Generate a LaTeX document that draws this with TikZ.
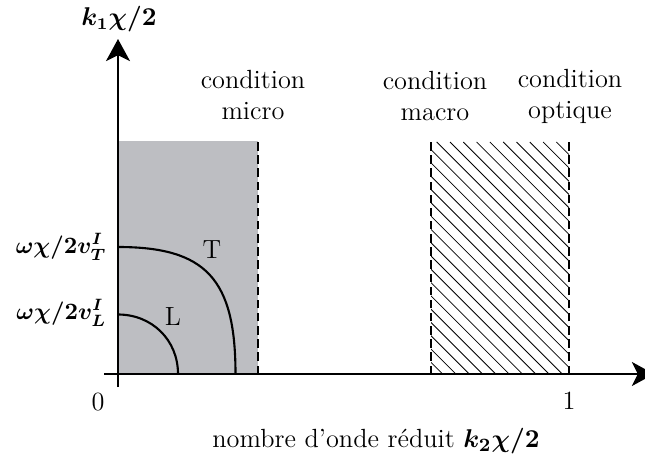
\documentclass[tikz,border=0pt]{standalone}
\usepackage{amsmath}
\usepackage{fontspec}
\usetikzlibrary{arrows.meta,positioning}
\definecolor{zonegris}{RGB}{189,190,194}

\begin{document}
\begin{tikzpicture}[x=0.426pt,y=0.426pt,
   >={Stealth[length=9.4pt,width=10.2pt,inset=2.5pt]},
   font=\fontsize{11.2}{13.2}\selectfont,
   axe/.style={line width=0.9pt},
   lim/.style={line width=0.9pt,dash pattern=on 3.6pt off 2pt},
   branch/.style={line width=0.9pt},
   hatch/.style={line width=0.35pt},
   cond/.style={align=center,inner sep=0pt},
   vlab/.style={inner sep=0pt,anchor=east,font=\fontsize{10.3}{12}\selectfont}]
  \useasboundingbox (-118,-89) rectangle (527,374);
  % zones
  \fill[zonegris] (0,0) rectangle (140,233);
  \begin{scope}
    \clip (313,0) rectangle (451,232);
    \foreach \k in {-19,...,9}
      \draw[hatch] (332+13.3*\k,232) -- ++(232,-232);
  \end{scope}
  % branches T et L
  \coordinate (T0) at (0,127);
  \coordinate (T1) at (117.5,0);
  \coordinate (L0) at (0,59.5);
  \coordinate (L1) at (60,0);
  \draw[branch] (T0) .. controls (88,127) and (117.5,95) .. (T1);
  \draw[branch] (L0) .. controls (34,59.5) and (60,34) .. (L1);
  \node (T) at (94,124) {T};
  \node (L) at (55,57) {L};
  % limites
  \draw[lim] (140,0) -- (140,233);
  \draw[lim] (313,0) -- (313,232);
  \draw[lim] (451,0) -- (451,232);
  % axes
  \coordinate (O) at (0,0);
  \draw[axe,->] (-14,0) -- (536,0);
  \draw[axe,->] (0,-13) -- (0,335);
  \node[font=\fontsize{10.7}{12}\selectfont] (ky) at (1,355) {$\boldsymbol{k_1\chi/2}$};
  \node[vlab] (vT) at (-11,127) {$\boldsymbol{\omega\chi/2v_T^I}$};
  \node[vlab] (vL) at (-11,61) {$\boldsymbol{\omega\chi/2v_L^I}$};
  \node (zero) at (-20,-28) {0};
  \node (un) at (451,-27) {1};
  \node (kx) at (258,-67) {nombre d’onde réduit $\boldsymbol{k_2\chi/2}$};
  \node[cond] (micro) at (135,279) {condition\\micro};
  \node[cond] (macro) at (317,278) {condition\\macro};
  \node[cond] (optique) at (452,278) {condition\\optique};
\end{tikzpicture}
\end{document}
